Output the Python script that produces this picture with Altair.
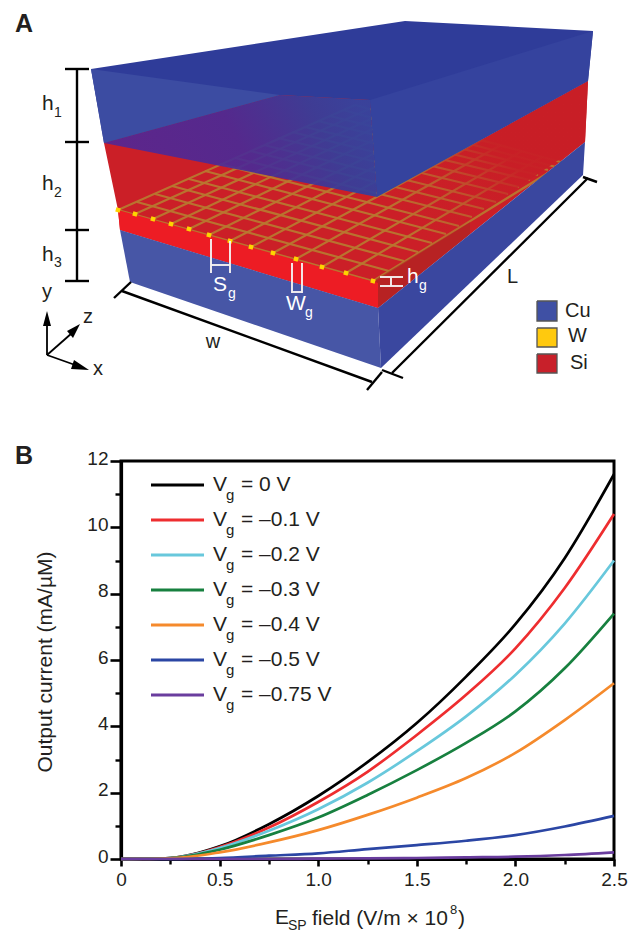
import altair as alt
import pandas as pd

# ---------- Panel B values ----------
FIELD = [0, 0.25, 0.5, 0.75, 1.0, 1.25, 1.5, 1.75, 2.0, 2.25, 2.5]
SERIES = ["0", "-0.1", "-0.2", "-0.3", "-0.4", "-0.5", "-0.75"]
V0 = [0, 0.03, 0.38, 1.05, 1.9, 2.92, 4.1, 5.5, 7.08, 9.07, 11.6]
V1 = [0, 0.03, 0.36, 0.95, 1.72, 2.63, 3.74, 4.95, 6.35, 8.17, 10.4]
V2 = [0, 0.03, 0.33, 0.85, 1.5, 2.3, 3.25, 4.3, 5.55, 7.1, 9.0]
V3 = [0, 0.03, 0.28, 0.72, 1.25, 1.93, 2.68, 3.5, 4.45, 5.75, 7.4]
V4 = [0, 0.02, 0.2, 0.5, 0.87, 1.33, 1.85, 2.44, 3.2, 4.19, 5.3]
V5 = [0, 0.0, 0.03, 0.1, 0.17, 0.3, 0.42, 0.55, 0.72, 0.98, 1.3]
V6 = [0, 0.0, 0.0, 0.0, 0.01, 0.02, 0.03, 0.05, 0.07, 0.12, 0.2]
CURVES = [V0, V1, V2, V3, V4, V5, V6]
COLORS = ["#000000", "#ee2d2f", "#68c8dc", "#17803f", "#f58a2c", "#2b46a4", "#6a3d9e"]
LEGEND_Y = [485, 520, 555, 590, 625, 660, 695]
LEGEND_LABELS = ["= 0 V", "= \u20130.1 V", "= \u20130.2 V", "= \u20130.3 V", "= \u20130.4 V", "= \u20130.5 V", "= \u20130.75 V"]

# ---------- Panel A schematic vertices ----------
BLUE_TOP = [(91, 69), (405, 21), (593, 31), (588, 81), (377, 197), (104, 143)]
TOP_FRONT = [(91, 69), (280, 95), (104, 143)]
TOP_RIGHT = [(370, 100), (593, 31), (588, 81), (377, 197)]
VEIL = [(104, 143), (280, 95), (370, 100), (377, 197)]
RED_BASE = [(104, 143), (280, 95), (370, 100), (377, 197), (588, 81), (585, 142), (378, 308), (120, 230), (118, 210)]
RED_FADE = [(377, 197), (588, 81), (585, 142), (378, 283)]
RED_EDGE = [(373, 281), (378, 283), (378, 308), (470, 234), (470, 222)]
STRIP = [(118, 210), (378, 283), (378, 308), (120, 230)]
CU_FRONT = [(120, 230), (378, 308), (381, 368), (130, 282)]
CU_RIGHT = [(378, 308), (585, 142), (583, 175), (381, 368)]
ARROW_Y = [(47, 311), (43, 326), (51, 326)]
ARROW_Z = [(80, 324), (67, 331), (73, 338)]
ARROW_X = [(89, 370), (74, 360), (71, 369)]
KEY_CU = [(537, 301), (557, 301), (557, 321), (537, 321)]
KEY_W = [(537, 328), (557, 328), (557, 347), (537, 347)]
KEY_SI = [(537, 354), (557, 354), (557, 373), (537, 373)]

NEAR_X = [118, 135, 153, 171, 189, 209, 230, 251, 273, 296, 322, 346, 373]
NEAR_Y = [210, 214, 219, 224, 229, 235, 241, 247, 253, 259, 267, 273, 281]
FAR_X = [355, 369, 384, 398, 413, 430, 447, 464, 482, 501, 522, 542, 564]
FAR_Y = [105, 109, 113, 117, 121, 126, 130, 135, 140, 145, 151, 157, 163]
ROW_LEFT_X = [118, 137, 155, 172, 189, 205, 220, 235, 250, 264, 278, 292, 305, 318, 330, 343, 355]
ROW_LEFT_Y = [210, 202, 194, 186, 179, 171, 164, 158, 151, 145, 138, 132, 127, 121, 116, 110, 105]
ROW_RIGHT_X = [373, 389, 404, 418, 432, 446, 459, 472, 484, 496, 508, 519, 530, 538, 548, 556, 564]
ROW_RIGHT_Y = [281, 271, 261, 252, 243, 234, 226, 217, 209, 202, 194, 187, 180, 175, 170, 167, 163]

BLACK_SEGS = [
    (77, 69, 77, 281, 2.4), (65, 69, 89, 69, 2.4), (65, 142, 89, 142, 2.4), (65, 230, 89, 230, 2.4), (65, 281, 89, 281, 2.4),
    (122, 291, 372, 382, 2.4), (114, 298, 131, 282, 2.4), (367, 390, 382, 372, 2.4),
    (392, 373, 588, 178, 2.4), (382, 370, 403, 378, 2.4), (583, 177, 597, 182, 2.4),
    (47, 355, 47, 322, 1.8), (47, 355, 72, 333, 1.8), (47, 355, 78, 366, 1.8),
]
WHITE_SEGS = [
    (211, 239, 211, 273, 1.9), (230, 241, 230, 273, 1.9), (211, 265, 230, 265, 1.9),
    (292, 263, 292, 293, 1.9), (302, 263, 302, 293, 1.9), (292, 292, 302, 292, 1.9),
    (380, 277, 403, 277, 1.9), (380, 286, 403, 286, 1.9), (391, 277, 391, 286, 1.9),
]

INK = "#231f20"
LEFT_TEXT = [
    ("h", 42, 104, 21, INK), ("1", 54, 113, 14, INK),
    ("h", 42, 184, 21, INK), ("2", 54, 193, 14, INK),
    ("h", 42, 255, 21, INK), ("3", 54, 263, 14, INK),
    ("S", 213, 285, 21, "white"), ("g", 228, 294, 14, "white"),
    ("W", 286, 304, 21, "white"), ("g", 305, 313, 14, "white"),
    ("h", 407, 277, 21, "white"), ("g", 419, 286, 14, "white"),
    ("L", 507, 277, 20, INK), ("Cu", 565, 311, 20, INK), ("W", 568, 336, 20, INK), ("Si", 570, 363, 20, INK),
    ("E", 275, 918, 21, INK), ("SP", 288, 926, 14, INK), ("field (V/m \u00d7 10", 312, 919, 21, INK),
    ("8", 450, 910, 13, INK), (")", 458, 919, 21, INK),
]
CENTER_TEXT = [("y", 47, 292, 20, INK), ("z", 88, 317, 20, INK), ("x", 98, 369, 20, INK), ("w", 213, 342, 20, INK)]
BOLD_TEXT = [("A", 24, 24, 25, INK), ("B", 24, 456, 25, INK)]

FONT = "Liberation Sans"
PX = alt.Scale(domain=[121, 614], range=[0, 493], zero=False, nice=False)
PY = alt.Scale(domain=[461, 859], range=[0, 398], zero=False, nice=False)


def poly(pts, fill, opacity=1.0, stroke=None):
    df = pd.DataFrame({"x": [p[0] for p in pts] + [pts[0][0]], "y": [p[1] for p in pts] + [pts[0][1]]})
    df["i"] = range(len(df))
    kw = {"stroke": stroke, "strokeWidth": 1.3} if stroke else {"strokeWidth": 0}
    return alt.Chart(df).mark_line(fill=fill, fillOpacity=opacity, interpolate="linear", **kw).encode(
        x=alt.X("x:Q", scale=PX, axis=None), y=alt.Y("y:Q", scale=PY, axis=None), order="i:Q")


def grad(pts, stops, x1, y1, x2, y2):
    g = alt.Gradient(gradient="linear", x1=x1, y1=y1, x2=x2, y2=y2,
                     stops=[alt.GradientStop(color=c, offset=o) for o, c in stops])
    return poly(pts, g)


def segments(rows, color, opacity=1.0):
    df = pd.DataFrame(rows, columns=["x", "y", "x2", "y2", "w"])
    return alt.Chart(df).mark_rule(color=color, opacity=opacity, strokeCap="butt").encode(
        x=alt.X("x:Q", scale=PX, axis=None), x2="x2:Q",
        y=alt.Y("y:Q", scale=PY, axis=None), y2="y2:Q",
        strokeWidth=alt.StrokeWidth("w:Q", scale=None),
    )


def texts(rows, align="left", weight="normal", angle=0):
    df = pd.DataFrame(rows, columns=["t", "x", "y", "s", "c"])
    return alt.Chart(df).mark_text(align=align, baseline="middle", font=FONT, fontWeight=weight, angle=angle).encode(
        x=alt.X("x:Q", scale=PX, axis=None), y=alt.Y("y:Q", scale=PY, axis=None),
        text="t:N", size=alt.Size("s:Q", scale=None), color=alt.Color("c:N", scale=None),
    )


grid_rows = [(a, b, c, d, 2.2) for a, b, c, d in zip(NEAR_X, NEAR_Y, FAR_X, FAR_Y)]
grid_rows += [(a, b, c, d, 2.2) for a, b, c, d in zip(ROW_LEFT_X, ROW_LEFT_Y, ROW_RIGHT_X, ROW_RIGHT_Y)]

dots = alt.Chart(pd.DataFrame({"x": NEAR_X, "y": NEAR_Y})).mark_point(
    shape="square", filled=True, color="#ffd400", size=20, opacity=1, angle=15
).encode(x=alt.X("x:Q", scale=PX, axis=None), y=alt.Y("y:Q", scale=PY, axis=None))

# Panel B: curves with the real axes
rows = []
for name, vals in zip(SERIES, CURVES):
    for f, v in zip(FIELD, vals):
        rows.append({"field": f, "current": v, "series": name})
curves_df = pd.DataFrame(rows)
DX = alt.Scale(domain=[0, 2.5], nice=False, zero=False)
DY = alt.Scale(domain=[0, 12], nice=False, zero=False)

major_x = alt.Axis(orient="bottom", values=[0, 0.5, 1.0, 1.5, 2.0, 2.5],
                   labelExpr="datum.value == 0 ? '0' : format(datum.value, '.1f')",
                   title=None, grid=False, tickSize=7, tickWidth=2.6, tickColor="black", domainColor="black",
                   domainWidth=3.2, labelFont=FONT, labelFontSize=19, labelColor=INK, labelPadding=4, labelAngle=0,
                   labelFlush=False, labelOverlap=False)
major_y = alt.Axis(orient="left", values=[0, 2, 4, 6, 8, 10, 12], title=None, grid=False, tickSize=11, tickWidth=2.6,
                   tickColor="black", domainColor="black", domainWidth=3.2, labelFont=FONT, labelFontSize=19,
                   labelColor=INK, labelPadding=2, labelOffset=-3, labelFlush=False, labelOverlap=False)
minor_x = alt.Axis(orient="bottom", values=[0.25, 0.75, 1.25, 1.75, 2.25], labels=False, title=None, grid=False,
                   domain=False, tickSize=5, tickWidth=2.4, tickColor="black")
minor_y = alt.Axis(orient="left", values=[1, 3, 5, 7, 9, 11], labels=False, title=None, grid=False, domain=False,
                   tickSize=6, tickWidth=2.4, tickColor="black")

minor_layer = alt.Chart(curves_df).mark_line(opacity=0).encode(
    x=alt.X("field:Q", scale=DX, axis=minor_x), y=alt.Y("current:Q", scale=DY, axis=minor_y), detail="series:N")
curve_layer = alt.Chart(curves_df).mark_line(strokeWidth=2.7, interpolate="monotone").encode(
    x=alt.X("field:Q", scale=DX, axis=major_x),
    y=alt.Y("current:Q", scale=DY, axis=major_y),
    color=alt.Color("series:N", scale=alt.Scale(domain=SERIES, range=COLORS), legend=None),
    order=alt.Order("field:Q"),
)

legend_lines = alt.Chart(pd.DataFrame({"x": [151] * 7, "x2": [204] * 7, "y": LEGEND_Y, "c": COLORS})).mark_rule(strokeWidth=2.8).encode(
    x=alt.X("x:Q", scale=PX, axis=None), x2="x2:Q", y=alt.Y("y:Q", scale=PY, axis=None),
    color=alt.Color("c:N", scale=None))
legend_text = []
for yy, lab in zip(LEGEND_Y, LEGEND_LABELS):
    legend_text += [("V", 213, yy, 21, INK), ("g", 226, yy + 10, 15, INK), (lab, 241, yy, 21, INK)]
y_title = texts([("Output current (mA/\u00b5M)", 46, 662, 21, INK)], align="center", angle=270)

chart = alt.layer(
    poly(BLUE_TOP, "#2f3c99"),
    poly(RED_BASE, "#cb1f27"),
    segments(grid_rows, "#b8772f", 0.95),
    grad(RED_FADE, [(0, "rgba(200,30,38,0)"), (0.2, "rgba(200,30,38,0)"), (0.4, "rgba(200,30,38,0.3)"), (0.62, "rgba(200,30,38,0.95)"), (1, "rgba(200,30,38,1)")], 0, 1, 1, 0),
    poly(RED_EDGE, "#a82420", 0.55),
    grad(VEIL, [(0, "rgba(82,38,150,0.90)"), (0.5, "rgba(72,42,152,0.90)"), (0.82, "rgba(52,62,156,0.93)"), (1, "rgba(53,67,158,0.97)")], 0, 0.6, 1, 0.4),
    poly(TOP_FRONT, "#3c4ca2"),
    poly(TOP_RIGHT, "#35439e"),
    poly(STRIP, "#ed1c24"),
    poly(CU_FRONT, "#4756a6"),
    poly(CU_RIGHT, "#3a479f"),
    dots,
    segments(BLACK_SEGS, "black"),
    segments(WHITE_SEGS, "#f4f1f1"),
    poly(ARROW_Y, "black"),
    poly(ARROW_Z, "black"),
    poly(ARROW_X, "black"),
    poly(KEY_CU, "#3f50a4", stroke="#555555"),
    poly(KEY_W, "#ffc90e", stroke="#555555"),
    poly(KEY_SI, "#c8202a", stroke="#555555"),
    minor_layer,
    curve_layer,
    legend_lines,
    texts(LEFT_TEXT + legend_text),
    texts(CENTER_TEXT, align="center"),
    texts(BOLD_TEXT, align="center", weight="bold"),
    y_title,
).resolve_scale(x="independent", y="independent", color="independent").properties(
    width=493, height=398,
    padding={"left": 113, "top": 453, "right": 14, "bottom": 74},
    autosize=alt.AutoSizeParams(type="none"),
    background="white",
).configure_view(stroke="black", strokeWidth=3)

chart.save("out.html", embed_options={"renderer": "svg", "actions": False})
